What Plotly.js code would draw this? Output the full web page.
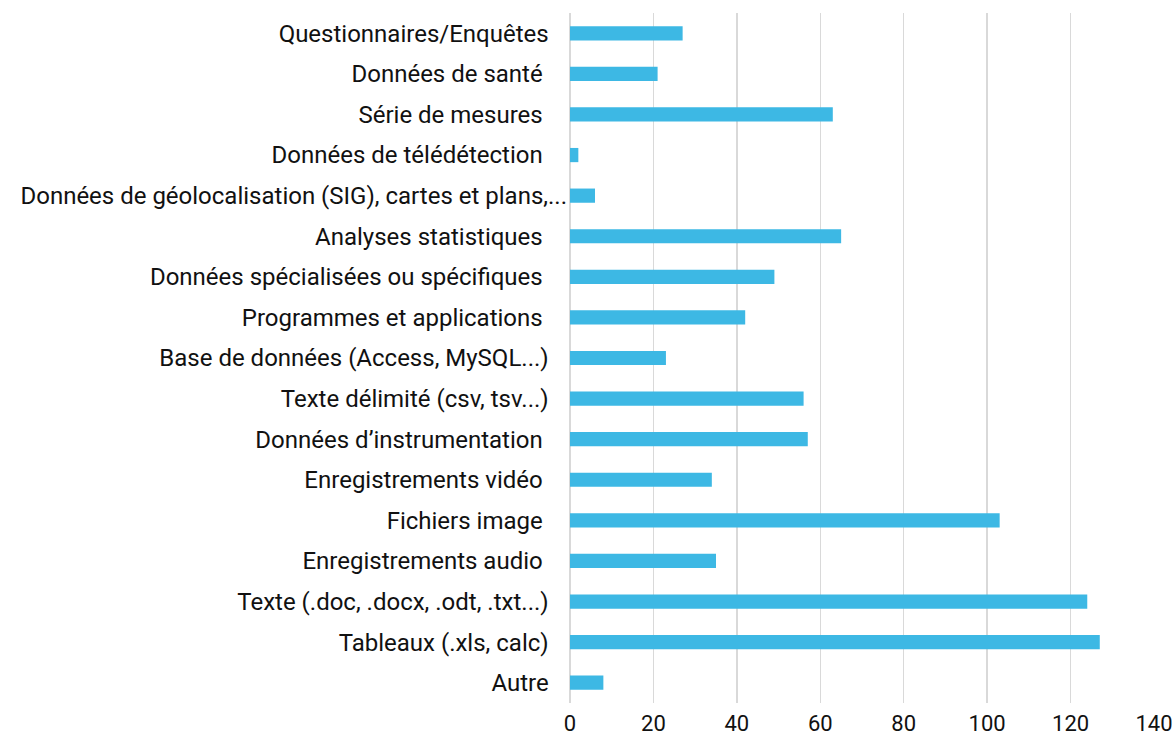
<!DOCTYPE html>
<html>
<head>
<meta charset="utf-8">
<script src="https://cdn.plot.ly/plotly-3.0.1.min.js"></script>
<style>html,body{margin:0;padding:0;background:#fff;}#chart{width:1176px;height:742px;}</style>
</head>
<body>
<div id="chart"></div>
<script>
// Categories, top to bottom as shown
const categories = [
  "Questionnaires/Enquêtes",
  "Données de santé ",
  "Série de mesures ",
  "Données de télédétection ",
  "Données de géolocalisation (SIG), cartes et plans,...",
  "Analyses statistiques ",
  "Données spécialisées ou spécifiques ",
  "Programmes et applications ",
  "Base de données (Access, MySQL...)",
  "Texte délimité (csv, tsv...)",
  "Données d’instrumentation ",
  "Enregistrements vidéo ",
  "Fichiers image ",
  "Enregistrements audio ",
  "Texte (.doc, .docx, .odt, .txt...)",
  "Tableaux (.xls, calc)",
  "Autre"
];
const values = [27, 21, 63, 2, 6, 65, 49, 42, 23, 56, 57, 34, 103, 35, 124, 127, 8];
const xTicks = [0, 20, 40, 60, 80, 100, 120, 140];

// Display labels: trailing spaces kept as non-breaking, plus an offset for all but the truncated one
const labels = categories.map(c => {
  let t = c.replace(/ $/, "\u00a0");
  if (c.indexOf("plans") < 0) t = t + "\u2002\u2005";
  return t;
});

const trace = {
  type: "bar",
  orientation: "h",
  y: labels.slice().reverse(),
  x: values.slice().reverse(),
  marker: {color: "#3db8e4"},
  width: 0.35,
  hoverinfo: "none"
};

const layout = {
  width: 1176, height: 742,
  margin: {l: 570, r: 22, t: 13, b: 39},
  paper_bgcolor: "#fff", plot_bgcolor: "#fff",
  font: {family: "Roboto, 'DejaVu Sans', sans-serif", size: 24, color: "#111"},
  showlegend: false,
  xaxis: {
    range: [0, 140],
    tickvals: xTicks,
    ticktext: xTicks.map(String),
    showgrid: true, gridcolor: "#d9d9d9", gridwidth: 1.5,
    zeroline: true, zerolinecolor: "#d9d9d9", zerolinewidth: 1.5,
    showline: false, ticks: "",
    tickfont: {size: 22, color: "#111"},
    ticklabelstandoff: 5,
    fixedrange: true
  },
  yaxis: {
    type: "category",
    showgrid: false, zeroline: false, showline: false, ticks: "",
    tickfont: {size: 24, color: "#111"},
    ticklabelstandoff: 2,
    automargin: false,
    fixedrange: true
  }
};

Plotly.newPlot("chart", [trace], layout, {displayModeBar: false, staticPlot: true});
</script>
</body>
</html>
